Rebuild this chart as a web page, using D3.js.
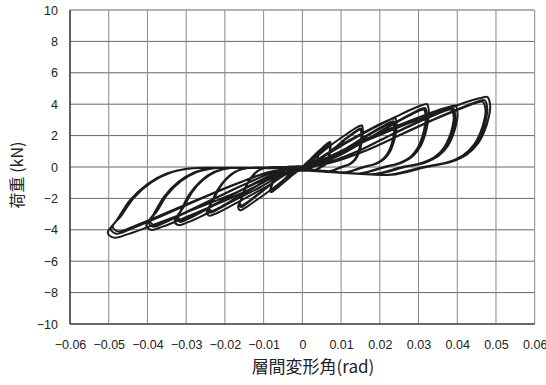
<!DOCTYPE html>
<html><head><meta charset="utf-8">
<script src="https://cdn.jsdelivr.net/npm/d3@7"></script>
<style>
html,body{margin:0;padding:0;background:#fff;}
svg{display:block;}
</style></head>
<body>
<svg id="chart" width="546" height="385"></svg>
<script>
// ---- tick labels ----
const xTickValues = [-0.06,-0.05,-0.04,-0.03,-0.02,-0.01,0,0.01,0.02,0.03,0.04,0.05,0.06];
const xTickLabels = ["−0.06","−0.05","−0.04","−0.03","−0.02","−0.01","0","0.01","0.02","0.03","0.04","0.05","0.06"];
const yTickValues = [10,8,6,4,2,0,-2,-4,-6,-8,-10];
const yTickLabels = ["10","8","6","4","2","0","−2","−4","−6","−8","−10"];

// ---- loading protocol (drift amplitude, rad) ----
const posAmp = [0.002, 0.004, 0.0072, 0.0154, 0.024, 0.0322, 0.0395, 0.0478];
const negAmp = [-0.002, -0.004, -0.0083, -0.0165, -0.0246, -0.0328, -0.0401, -0.050];
// peak loads (kN) of each cycle at each amplitude
const posPeak = [[0.45,0.42],[0.8,0.75],[1.6,1.5,1.45],[2.65,2.45,2.38],[3.1,2.9,2.8],[4.0,3.75,3.65],[3.9,3.75,3.65],[4.45,4.25,4.15]];
const negPeak = [[-0.4,-0.38],[-0.75,-0.7],[-1.6,-1.5,-1.45],[-2.75,-2.55,-2.45],[-3.1,-2.9,-2.8],[-3.7,-3.5,-3.4],[-4.0,-3.8,-3.7],[-4.5,-4.25,-4.1]];
// slip-branch load levels near zero (kN)
const posFlat = [-0.05,-0.1,-0.18,-0.26,-0.33,-0.4,-0.45,-0.5];
const negFlat = [0.05,0.05,0.03,0.0,-0.03,-0.05,-0.05,-0.06];
// drift reached in 1st/2nd/3rd cycle relative to amplitude
const cycleReach = [1, 0.985, 0.975];

// ---- loop shape: [drift / amplitude, load / peak] ----
const posLoadFirst  = [[0.15,0.14],[0.35,0.38],[0.55,0.6],[0.75,0.8],[0.9,0.94],[0.97,0.99],[1.0,1.0]];
const posLoadRepeat = [[0.15,0.06],[0.35,0.25],[0.55,0.5],[0.75,0.75],[0.9,0.92],[0.97,0.99],[1.0,1.0]];
const posUnload     = [[1.015,0.86],[1.006,0.7],[0.985,0.52],[0.95,0.34],[0.89,0.18],[0.8,0.07],[0.67,0.0]];
const posSlip       = [[0.48,1.0],[0.3,0.85],[0.12,0.6],[0,0.45]];   // [drift / amplitude, load / slip level]
const negLoadFirst  = [[0.15,0.13],[0.35,0.37],[0.55,0.59],[0.75,0.8],[0.9,0.95],[0.975,1.0],[1.005,0.93]];
const negLoadRepeat = [[0.15,0.06],[0.35,0.26],[0.55,0.5],[0.75,0.75],[0.9,0.93],[0.975,1.0],[1.005,0.93]];
const negUnload     = [[0.96,0.76],[0.89,0.47],[0.8,0.24],[0.7,0.09],[0.58,0.02]];
const negSlip       = [[0.4,1.0],[0.2,1.0],[0,1.0]];

// ---- build the traced path ----
const pts = [[0,0]];
posAmp.forEach((A, k) => {
  posPeak[k].forEach((P, c) => {
    const r = cycleReach[c];
    const a = A * r, b = negAmp[k] * r, N = negPeak[k][c];
    (c === 0 ? posLoadFirst : posLoadRepeat).forEach(([u,v]) => pts.push([u*a, v*P]));
    posUnload.forEach(([u,v]) => pts.push([u*a, v*P]));
    posSlip.forEach(([u,v]) => pts.push([u*a, v*posFlat[k]]));
    (c === 0 ? negLoadFirst : negLoadRepeat).forEach(([u,v]) => pts.push([u*b, v*N]));
    negUnload.forEach(([u,v]) => pts.push([u*b, v*N]));
    negSlip.forEach(([u,v]) => pts.push([u*b, v*negFlat[k]]));
  });
});

// ---- chart ----
const svg = d3.select("#chart");
const x = d3.scaleLinear().domain([-0.06, 0.06]).range([70, 534.7]);
const y = d3.scaleLinear().domain([-10, 10]).range([324, 10]);

svg.append("rect").attr("width",546).attr("height",385).attr("fill","#fff");

const grid = svg.append("g");
grid.selectAll("line.h").data(yTickValues).join("line")
  .attr("x1", x(-0.06)).attr("x2", x(0.06))
  .attr("y1", d => y(d)).attr("y2", d => y(d))
  .attr("stroke", "#666").attr("stroke-width", 1);
grid.selectAll("line.v").data(xTickValues).join("line")
  .attr("x1", d => x(d)).attr("x2", d => x(d))
  .attr("y1", y(10)).attr("y2", y(-10))
  .attr("stroke", "#888").attr("stroke-width", 1);

// axis lines
svg.append("line").attr("x1", x(-0.06)).attr("x2", x(-0.06)).attr("y1", y(10)).attr("y2", y(-10))
  .attr("stroke", "#222").attr("stroke-width", 1.2);
svg.append("line").attr("x1", x(-0.06)).attr("x2", x(0.06)).attr("y1", y(-10)).attr("y2", y(-10))
  .attr("stroke", "#222").attr("stroke-width", 1.2);

const fontNum = "'Liberation Sans', Arial, sans-serif";
const xAxis = svg.append("g").attr("transform", `translate(0,${y(-10)})`)
  .call(d3.axisBottom(x).tickValues(xTickValues).tickSize(0).tickPadding(16)
    .tickFormat((d,i) => xTickLabels[i]));
const yAxis = svg.append("g").attr("transform", `translate(${x(-0.06)},0)`)
  .call(d3.axisLeft(y).tickValues(yTickValues).tickSize(0).tickPadding(12)
    .tickFormat((d,i) => yTickLabels[i]));
[xAxis, yAxis].forEach(g => {
  g.select(".domain").remove();
  g.selectAll("text").attr("font-family", fontNum).attr("font-size", 12.5).attr("fill", "#222");
});

// hysteresis curve
svg.append("path").datum(pts)
  .attr("d", d3.line().x(d => x(d[0])).y(d => y(d[1])).curve(d3.curveCatmullRom.alpha(0.5)))
  .attr("fill", "none").attr("stroke", "#1e1b1c").attr("stroke-width", 2)
  .attr("stroke-linejoin", "round");

// titles
const fontJp = "'Noto Sans CJK JP', 'Noto Sans', sans-serif";
svg.append("text").attr("x", 313).attr("y", 373).attr("text-anchor", "middle")
  .attr("font-family", fontJp).attr("font-size", 17).attr("fill", "#222")
  .text("層間変形角(rad)");
svg.append("text").attr("transform", "translate(23,175) rotate(-90)").attr("text-anchor", "middle")
  .attr("font-family", fontJp).attr("font-size", 16).attr("fill", "#222")
  .text("荷重 (kN)");
</script>
</body></html>
